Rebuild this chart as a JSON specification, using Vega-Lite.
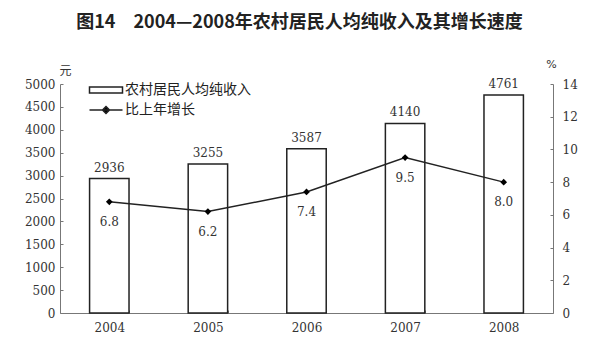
{
  "$schema": "https://vega.github.io/schema/vega-lite/v6.json",
  "width": 493,
  "height": 229,
  "autosize": "none",
  "padding": {"left": 60, "top": 84, "right": 47, "bottom": 50},
  "background": "white",
  "title": {
    "text": "图14　2004—2008年农村居民人均纯收入及其增长速度",
    "font": "Noto Sans CJK SC",
    "fontSize": 18,
    "fontWeight": "bold",
    "color": "#222",
    "frame": "group",
    "anchor": "middle",
    "dx": -7,
    "offset": 26
  },
  "config": {
    "view": {"stroke": null},
    "axis": {
      "grid": false,
      "domainColor": "#777",
      "tickColor": "#777",
      "labelFont": "DejaVu Serif",
      "labelFontSize": 12,
      "labelColor": "#333"
    }
  },
  "data": {
    "values": [
      {"year": "2004", "income": 2936, "growth": 6.8, "glabel": "6.8", "series": "农村居民人均纯收入"},
      {"year": "2005", "income": 3255, "growth": 6.2, "glabel": "6.2", "series": "农村居民人均纯收入"},
      {"year": "2006", "income": 3587, "growth": 7.4, "glabel": "7.4", "series": "农村居民人均纯收入"},
      {"year": "2007", "income": 4140, "growth": 9.5, "glabel": "9.5", "series": "农村居民人均纯收入"},
      {"year": "2008", "income": 4761, "growth": 8.0, "glabel": "8.0", "series": "农村居民人均纯收入"}
    ]
  },
  "encoding": {
    "x": {
      "field": "year",
      "type": "nominal",
      "scale": {"paddingInner": 0.6, "paddingOuter": 0.3},
      "axis": {"title": null, "labelAngle": 0, "tickBand": "extent", "tickSize": -3, "labelPadding": 12, "domainColor": "#777"}
    }
  },
  "layer": [
    {
      "mark": {"type": "bar", "stroke": "#222", "strokeWidth": 1.5},
      "encoding": {
        "y": {
          "field": "income",
          "type": "quantitative",
          "scale": {"domain": [0, 5000]},
          "axis": {
            "title": "元",
            "titleFont": "Noto Sans CJK SC",
            "titleFontSize": 12,
            "titleFontWeight": "normal",
            "titleAngle": 0,
            "titleX": 5,
            "titleY": -14,
            "titleAlign": "center",
            "titleBaseline": "middle",
            "titleColor": "#333",
            "format": "d",
            "values": [0, 500, 1000, 1500, 2000, 2500, 3000, 3500, 4000, 4500, 5000],
            "tickSize": -3,
            "labelPadding": 8
          }
        },
        "fill": {
          "field": "series",
          "type": "nominal",
          "scale": {"domain": ["农村居民人均纯收入", "比上年增长"], "range": ["white", "black"]},
          "legend": {
            "title": null,
            "orient": "none",
            "legendX": 39,
            "legendY": -1,
            "padding": 0,
            "symbolSize": 100,
            "symbolStrokeColor": "#222",
            "symbolStrokeWidth": 1.5,
            "labelFont": "Noto Sans CJK SC",
            "labelFontSize": 14,
            "labelColor": "#222",
            "labelOffset": 12,
            "rowPadding": 6,
            "encode": {
              "symbols": {
                "update": {
                  "shape": {"signal": "datum.value === '农村居民人均纯收入' ? 'M-3.3,-0.6H3.3V0.6H-3.3Z' : 'M-3.3,0H3.3M0,-0.7L0.7,0L0,0.7L-0.7,0Z'"}
                }
              }
            }
          }
        }
      }
    },
    {
      "mark": {"type": "text", "dy": -11, "font": "DejaVu Serif", "fontSize": 12, "color": "#333"},
      "encoding": {
        "y": {"field": "income", "type": "quantitative", "scale": {"domain": [0, 5000]}, "axis": null},
        "text": {"field": "income", "type": "quantitative"}
      }
    },
    {
      "mark": {"type": "line", "color": "#222", "strokeWidth": 1.5, "point": {"shape": "diamond", "size": 45, "filled": true, "color": "#000"}},
      "encoding": {
        "y": {
          "field": "growth",
          "type": "quantitative",
          "scale": {"domain": [0, 14]},
          "axis": {
            "orient": "right",
            "title": "%",
            "titleFont": "DejaVu Sans",
            "titleFontSize": 11,
            "titleFontWeight": "normal",
            "titleAngle": 0,
            "titleX": -2,
            "titleY": -20,
            "titleAlign": "center",
            "titleBaseline": "middle",
            "titleColor": "#333",
            "values": [0, 2, 4, 6, 8, 10, 12, 14],
            "tickSize": -3,
            "labelPadding": 12
          }
        }
      }
    },
    {
      "mark": {"type": "text", "dy": 20, "font": "DejaVu Serif", "fontSize": 12, "color": "#333"},
      "encoding": {
        "y": {"field": "growth", "type": "quantitative", "scale": {"domain": [0, 14]}, "axis": null},
        "text": {"field": "glabel", "type": "nominal"}
      }
    }
  ],
  "resolve": {"scale": {"y": "independent"}}
}
